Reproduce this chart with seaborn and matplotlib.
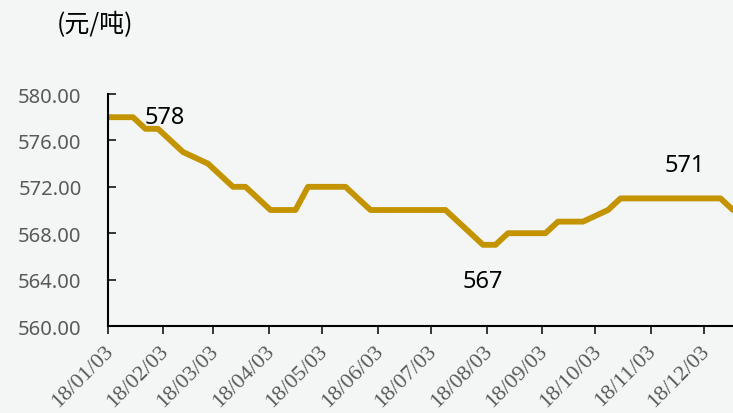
import pandas as pd
import numpy as np
import matplotlib
matplotlib.use('Agg')
import matplotlib.pyplot as plt
import matplotlib.transforms as mtransforms
from matplotlib import font_manager as fm
import seaborn as sns

# weekly price (元/吨), 2018
start_date = '2018-01-03'
prices = [578, 578, 578, 577, 577, 576, 575, 574.5, 574, 573,
          572, 572, 571, 570, 570, 570, 572, 572, 572, 572,
          571, 570, 570, 570, 570, 570, 570, 570, 569, 568,
          567, 567, 568, 568, 568, 568, 569, 569, 569, 569.5,
          570, 571, 571, 571, 571, 571, 571, 571, 571, 571,
          570]
tick_dates = ['2018-01-03', '2018-02-03', '2018-03-03', '2018-04-03',
              '2018-05-03', '2018-06-03', '2018-07-03', '2018-08-03',
              '2018-09-03', '2018-10-03', '2018-11-03', '2018-12-03']
labels = ['578', '567', '571']
label_dates = ['2018-02-04', '2018-08-01', '2018-11-22']
label_y = [578.0, 563.9, 573.9]

df = pd.DataFrame({
    'date': pd.date_range(start_date, periods=len(prices), freq='7D'),
    'price': prices,
})


def serif_font(size):
    # look the file up directly, name matching has been unreliable here
    for want in ['Liberation Serif', 'DejaVu Serif', 'Times New Roman']:
        for f in fm.fontManager.ttflist:
            if f.name == want and f.style == 'normal' and f.weight in (400, 'normal', 'regular'):
                return fm.FontProperties(fname=f.fname, size=size)
    for f in fm.fontManager.ttflist:
        if 'Serif' in f.name and 'Sans' not in f.name and f.style == 'normal':
            return fm.FontProperties(fname=f.fname, size=size)
    return fm.FontProperties(family='serif', size=size)


bg = '#f3f6f5'
sns.set_style('ticks')
plt.rcParams['font.family'] = ['Noto Sans', 'Noto Sans CJK SC', 'DejaVu Sans']

fig = plt.figure(figsize=(7.33, 4.14), dpi=100, facecolor=bg)
ax = fig.add_axes([0.1473, 0.2101, 0.8527, 0.5604])
ax.set_facecolor(bg)

sns.lineplot(data=df, x='date', y='price', ax=ax, color='#c39300',
             linewidth=4.2)

ax.set_ylim(560, 580)
ax.set_yticks(np.arange(560, 581, 4))
ax.yaxis.set_major_formatter(matplotlib.ticker.FormatStrFormatter('%.2f'))
ax.set_xlim(pd.Timestamp(start_date), df['date'].iloc[-1])
ticks = pd.to_datetime(tick_dates)
ax.set_xticks(ticks)
ax.set_xticklabels([])

ax.set_xlabel('')
ax.set_ylabel('')
for s in ['top', 'right']:
    ax.spines[s].set_visible(False)
for s in ['left', 'bottom']:
    ax.spines[s].set_linewidth(1.5)
    ax.spines[s].set_color('black')

ax.tick_params(axis='y', direction='in', length=6, width=1.3,
               labelsize=14.5, labelcolor='#595959', pad=19)
ax.tick_params(axis='x', direction='out', length=6, width=1.3)

# serif date labels under the ticks
fp = serif_font(16)
lab_tr = mtransforms.offset_copy(ax.get_xaxis_transform(), fig=fig,
                                 x=-4, y=-15, units='dots')
for t in ticks:
    ax.text(t, 0, t.strftime('%y/%m/%d'), transform=lab_tr, rotation=45,
            ha='right', va='top', rotation_mode='anchor',
            fontproperties=fp, color='#595959', clip_on=False)

for txt, d, y in zip(labels, label_dates, label_y):
    ax.text(pd.Timestamp(d), y, txt, ha='center', va='center',
            fontsize=17, color='black')

fig.text(0.129, 0.94, '(元/吨)', ha='center', va='center', fontsize=18,
         family=['Noto Sans CJK SC', 'DejaVu Sans'], color='black')

fig.savefig('out.png', dpi=100, facecolor=bg)
